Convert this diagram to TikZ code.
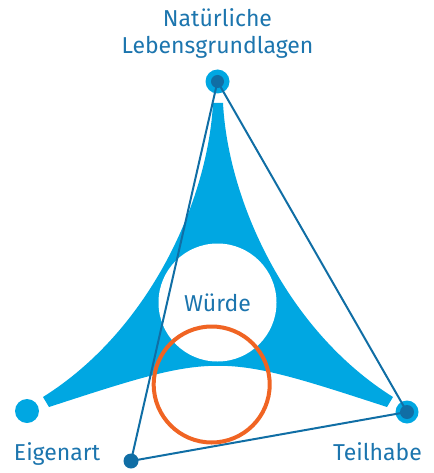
\documentclass[tikz,border=0pt]{standalone}
\usepackage{fontspec}
\setmainfont{Fira Sans}
\usetikzlibrary{positioning}
\definecolor{skyblue}{RGB}{0,167,226}
\definecolor{lineblue}{RGB}{16,110,165}
\definecolor{textblue}{RGB}{28,117,174}
\definecolor{ringorange}{RGB}{240,100,35}

\begin{document}
\begin{tikzpicture}[
  x=1pt, y=-1pt,
  font=\fontsize{23}{26.7}\selectfont,
  lightdot/.style={circle, fill=skyblue, inner sep=0pt, minimum size=24pt},
  darkdot/.style={circle, fill=lineblue, inner sep=0pt, minimum size=13pt},
  link/.style={draw=lineblue, line width=2pt},
  label/.style={text=textblue, anchor=base, align=center},
]
\useasboundingbox (0,0) rectangle (433,473);

% sail
\fill[skyblue] (213,103) .. controls (208,200) and (150,330) .. (43,397) -- (49,407)
  .. controls (218,352) .. (387,407) -- (393,397)
  .. controls (286,330) and (228,200) .. (223,103) -- cycle;
\node[circle, fill=white, inner sep=0pt, minimum size=118pt, text=textblue] (wuerde) at (217.5,302.5) {Würde};

% corners
\node[lightdot] (natur) at (217.5,81.5) {};
\node[lightdot] (eigen) at (27,411) {};
\node[lightdot, minimum size=23pt] (teil) at (407,412) {};
\coordinate (basept) at (131,461);

\draw[link] (natur.center) -- (teil.center);
\draw[link] (natur.center) -- (basept);
\draw[link] (basept) -- (teil.center);

\node[darkdot] (natur-in) at (natur.center) {};
\node[darkdot, minimum size=14pt] (teil-in) at (teil.center) {};
\node[darkdot, minimum size=15pt] (base) at (basept) {};

\node[circle, draw=ringorange, line width=4pt, inner sep=0pt, minimum size=116pt] (ring) at (211.7,384.5) {};

% labels
\node[label] (natur-lbl) at (217.5,53.3) {Natürliche\\Lebensgrundlagen};
\node[label] (eigen-lbl) at (57,460) {Eigenart};
\node[label] (teil-lbl) at (377.5,460) {Teilhabe};

\end{tikzpicture}
\end{document}
